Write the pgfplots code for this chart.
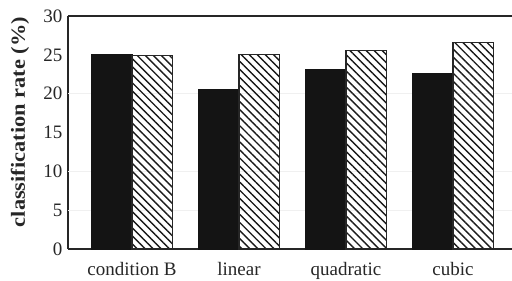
\documentclass[border=0pt]{standalone}
\usepackage{fontspec}
\setmainfont{Liberation Serif}
\usepackage{pgfplots}
\pgfplotsset{compat=1.18}
\usetikzlibrary{patterns.meta}
\definecolor{barblack}{HTML}{141414}
\begin{document}
\begin{tikzpicture}
\begin{axis}[
  at={(68pt,32pt)}, anchor=south west,
  scale only axis, width=462pt, height=233pt,
  xmin=-0.598, xmax=3.72, ymin=0, ymax=30,
  ybar=0pt, bar width=40.5pt,
  xtick={0,1,2,3},
  xticklabels={condition B, linear, quadratic, cubic},
  ytick={0,5,10,15,20,25,30},
  major tick length=0pt,
  axis line style={line width=1.6pt, black!85},
  axis y line*=left, axis x line*=box,
  /pgf/number format/assume math mode=true,
  tick label style={font=\fontsize{19}{22}\selectfont, text=black!85},
  yticklabel style={xshift=-2pt},
  xticklabel style={yshift=-10pt},
  extra y ticks={5,10,20},
  extra y tick labels={},
  extra y tick style={grid=major, major grid style={gray!12, line width=0.6pt}},
  clip=false,
]
\addplot[fill=barblack, draw=barblack, line width=0.8pt] coordinates {(0,25.1) (1,20.55) (2,23.1) (3,22.6)};
\addplot[draw=black!85, line width=1.3pt, pattern={Lines[angle=-45, distance=5.7pt, line width=1.4pt]}, pattern color=black!90] coordinates {(0,24.9) (1,25.05) (2,25.6) (3,26.6)};
\end{axis}
\node[rotate=90, font=\fontsize{20}{24}\selectfont\bfseries, text=black!85] at (20pt,159pt) {\scalebox{1.12}[1]{classification rate (\%)}};
\pgfresetboundingbox
\path (0,0) rectangle (512pt,281pt);
\end{tikzpicture}
\end{document}
